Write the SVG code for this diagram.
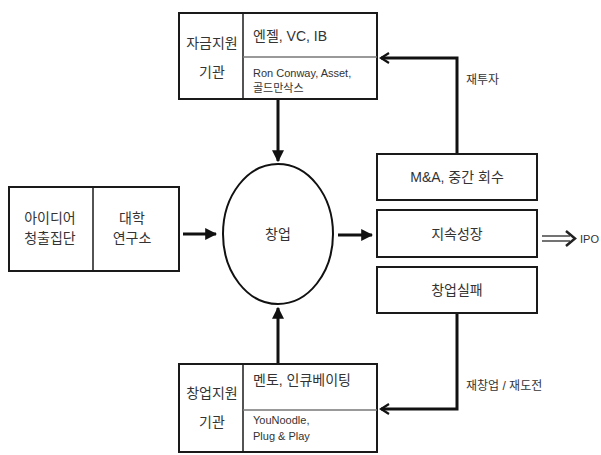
<svg xmlns="http://www.w3.org/2000/svg" width="601" height="455" viewBox="0 0 601 455">
<style>
.box{fill:#fff;stroke:#1a1a1a;stroke-width:2}
.div{stroke:#1a1a1a;stroke-width:1.5;fill:none}
.hdiv{stroke:#777;stroke-width:1.5;fill:none}
.t{font-family:"Liberation Sans","Noto Sans CJK KR",sans-serif;fill:#333;font-size:14px}
.c{text-anchor:middle}
.s{font-size:11px}
.l{font-size:12px}
.ln{stroke:#111;stroke-width:3;fill:none}
</style>
<defs>
<marker id="ah" viewBox="0 0 10 10" refX="9" refY="5" markerWidth="4" markerHeight="4" orient="auto" markerUnits="strokeWidth">
<path d="M0,0 L10,5 L0,10 Z" fill="#111"/>
</marker>
<marker id="oh" viewBox="0 0 12 12" refX="10" refY="6" markerWidth="4" markerHeight="4" orient="auto" markerUnits="strokeWidth">
<path d="M2,1 L10,6 L2,11" fill="none" stroke="#111" stroke-width="2.2"/>
</marker>
</defs>
<g id="connectors">
<line class="ln" x1="278" y1="99" x2="278" y2="161" marker-end="url(#ah)"/>
<line class="ln" x1="278" y1="363" x2="278" y2="308" marker-end="url(#ah)"/>
<line class="ln" x1="183" y1="234" x2="216" y2="234" marker-end="url(#ah)"/>
<line class="ln" x1="338" y1="235" x2="372" y2="235" marker-end="url(#ah)"/>
<polyline class="ln" points="457,154 457,58 381,58" marker-end="url(#oh)"/>
<polyline class="ln" points="457,313 457,409 381,409" marker-end="url(#oh)"/>
<line stroke="#444" stroke-width="1.5" x1="542" y1="236" x2="570" y2="236"/>
<line stroke="#444" stroke-width="1.5" x1="542" y1="241" x2="570" y2="241"/>
<path d="M566,231 L575,238.5 L566,246" fill="none" stroke="#222" stroke-width="2.5"/>
<text class="t s" x="580" y="243">IPO</text>
<text class="t l" x="466" y="84">재투자</text>
<text class="t l" x="466" y="390">재창업 / 재도전</text>
</g>
<g id="funding">
<rect class="box" x="179" y="13" width="198" height="86"/>
<line class="div" x1="243" y1="13" x2="243" y2="99"/>
<line class="hdiv" x1="243" y1="57" x2="377" y2="57"/>
<text class="t c" x="212" y="48">자금지원</text>
<text class="t c" x="212" y="77">기관</text>
<text class="t" x="253" y="41">엔젤, VC, IB</text>
<text class="t s" x="253" y="77">Ron Conway, Asset,</text>
<text class="t s" x="253" y="92">골드만삭스</text>
</g>
<g id="idea">
<rect class="box" x="9" y="187" width="170" height="84"/>
<line class="div" x1="93" y1="187" x2="93" y2="271"/>
<text class="t c" x="50" y="223">아이디어</text>
<text class="t c" x="50" y="243">청출집단</text>
<text class="t c" x="132" y="223">대학</text>
<text class="t c" x="132" y="243">연구소</text>
</g>
<g id="startup">
<ellipse fill="#fff" stroke="#111" stroke-width="2" cx="278" cy="234" rx="55" ry="70"/>
<text class="t c" x="278" y="239">창업</text>
</g>
<g id="mna">
<rect class="box" x="377" y="154" width="160" height="46"/>
<text class="t c" x="457" y="182">M&amp;A, 중간 회수</text>
</g>
<g id="growth">
<rect class="box" x="377" y="210" width="160" height="47"/>
<text class="t c" x="457" y="239">지속성장</text>
</g>
<g id="fail">
<rect class="box" x="377" y="267" width="160" height="46"/>
<text class="t c" x="457" y="295">창업실패</text>
</g>
<g id="support">
<rect class="box" x="179" y="364" width="198" height="88"/>
<line class="div" x1="243" y1="364" x2="243" y2="452"/>
<line class="hdiv" x1="243" y1="410" x2="377" y2="410"/>
<text class="t c" x="212" y="398">창업지원</text>
<text class="t c" x="212" y="427">기관</text>
<text class="t" x="253" y="385">멘토, 인큐베이팅</text>
<text class="t s" x="253" y="424">YouNoodle,</text>
<text class="t s" x="253" y="440">Plug &amp; Play</text>
</g>
</svg>
